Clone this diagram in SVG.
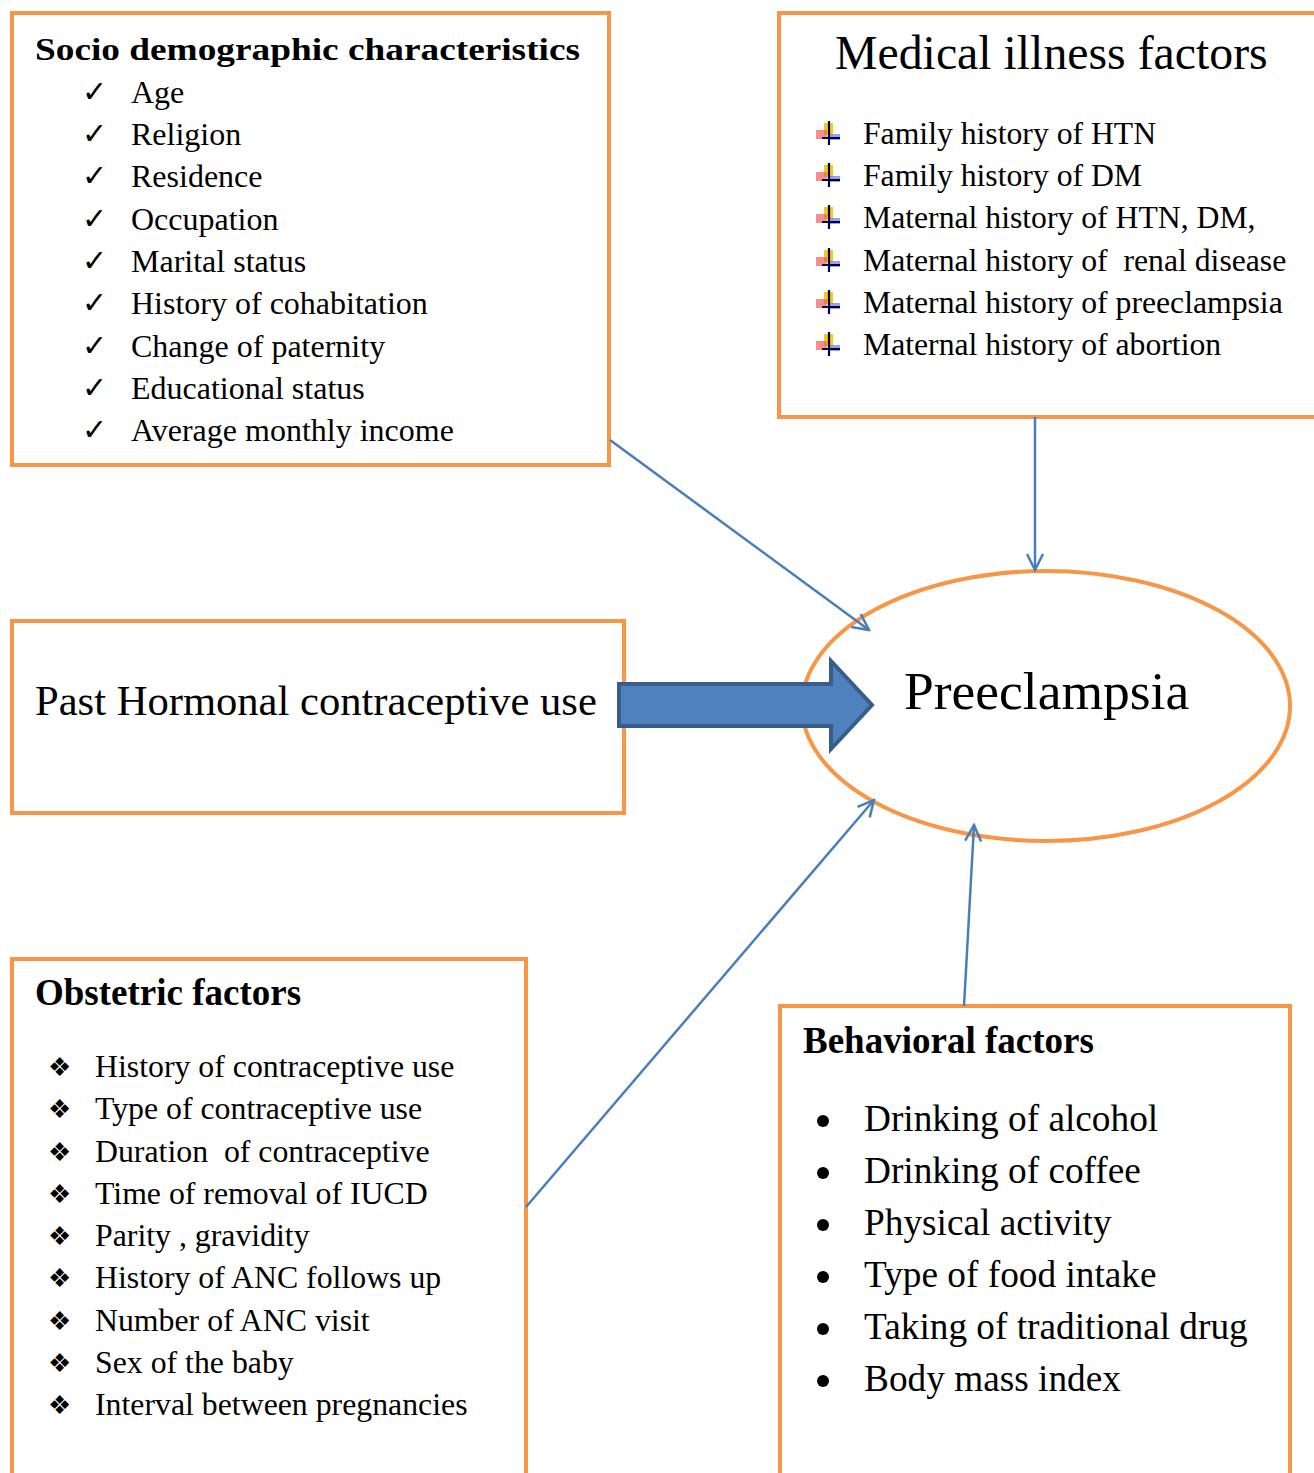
<svg xmlns="http://www.w3.org/2000/svg" width="1314" height="1473" viewBox="0 0 1314 1473">
<style>
.box{fill:#fff;stroke:#F79646;stroke-width:4}
.t{font-family:"Liberation Serif","Times New Roman",serif;fill:#000}
.b{font-weight:bold}
.s{font-family:"DejaVu Sans",sans-serif;fill:#000}
.con{stroke:#4A7EBB;stroke-width:2.5;fill:none}
</style>
<defs>
<marker id="ah" viewBox="0 0 20 20" refX="18" refY="10" markerWidth="20" markerHeight="20" markerUnits="userSpaceOnUse" orient="auto">
<path d="M2,2 L18,10 L2,18" fill="none" stroke="#4A7EBB" stroke-width="2.5"/>
</marker>
<g id="ico">
<rect x="-5" y="-12" width="9" height="12" fill="#F4C400" opacity="0.9"/>
<rect x="-13" y="-5" width="11" height="9" fill="#F06060" opacity="0.7"/>
<rect x="-1" y="-1" width="12" height="6" fill="#5060F0" opacity="0.6"/>
<path d="M0,-14 V10 M-7,3 H11" stroke="#000040" stroke-width="2.2"/>
</g>
</defs>

<g id="socio">
<rect class="box" x="12" y="13" width="597" height="452"/>
<text class="t b" x="35" y="60" font-size="32" textLength="545" lengthAdjust="spacingAndGlyphs">Socio demographic characteristics</text>
<g class="s" font-size="30" font-weight="bold">
<text x="82" y="102">✓</text><text x="82" y="144">✓</text><text x="82" y="186">✓</text>
<text x="82" y="229">✓</text><text x="82" y="271">✓</text><text x="82" y="313">✓</text>
<text x="82" y="356">✓</text><text x="82" y="398">✓</text><text x="82" y="440">✓</text>
</g>
<g class="t" font-size="32">
<text x="131" y="103">Age</text>
<text x="131" y="145">Religion</text>
<text x="131" y="187">Residence</text>
<text x="131" y="230">Occupation</text>
<text x="131" y="272">Marital status</text>
<text x="131" y="314">History of cohabitation</text>
<text x="131" y="357">Change of paternity</text>
<text x="131" y="399">Educational status</text>
<text x="131" y="441">Average monthly income</text>
</g>
</g>

<g id="medical">
<rect class="box" x="779" y="13" width="540" height="404"/>
<text class="t" x="835" y="69" font-size="47.8">Medical illness factors</text>
<use href="#ico" x="829" y="135"/><use href="#ico" x="829" y="177"/><use href="#ico" x="829" y="219"/>
<use href="#ico" x="829" y="262"/><use href="#ico" x="829" y="304"/><use href="#ico" x="829" y="346"/>
<g class="t" font-size="31.7">
<text x="863" y="144">Family history of HTN</text>
<text x="863" y="186">Family history of DM</text>
<text x="863" y="228">Maternal history of HTN, DM,</text>
<text x="863" y="271" xml:space="preserve">Maternal history of  renal disease</text>
<text x="863" y="313">Maternal history of preeclampsia</text>
<text x="863" y="355">Maternal history of abortion</text>
</g>
</g>

<g id="hormonal">
<rect class="box" x="12" y="621" width="612" height="192"/>
<text class="t" x="35" y="715" font-size="42.6">Past Hormonal contraceptive use</text>
</g>

<g id="preeclampsia">
<ellipse cx="1046" cy="706" rx="244" ry="135" fill="#fff" stroke="#F79646" stroke-width="4"/>
<text class="t" x="904" y="709" font-size="53.5">Preeclampsia</text>
</g>

<g id="obstetric">
<rect class="box" x="12" y="959" width="514" height="530"/>
<text class="t b" x="35" y="1005" font-size="37">Obstetric factors</text>
<g class="s" font-size="26">
<text x="48" y="1076">❖</text><text x="48" y="1118">❖</text><text x="48" y="1161">❖</text>
<text x="48" y="1203">❖</text><text x="48" y="1245">❖</text><text x="48" y="1287">❖</text>
<text x="48" y="1330">❖</text><text x="48" y="1372">❖</text><text x="48" y="1414">❖</text>
</g>
<g class="t" font-size="31.8">
<text x="95" y="1077">History of contraceptive use</text>
<text x="95" y="1119">Type of contraceptive use</text>
<text x="95" y="1162" xml:space="preserve">Duration  of contraceptive</text>
<text x="95" y="1204">Time of removal of IUCD</text>
<text x="95" y="1246">Parity , gravidity</text>
<text x="95" y="1288">History of ANC follows up</text>
<text x="95" y="1331">Number of ANC visit</text>
<text x="95" y="1373">Sex of the baby</text>
<text x="95" y="1415">Interval between pregnancies</text>
</g>
</g>

<g id="behavioral">
<rect class="box" x="780" y="1006" width="510" height="480"/>
<text class="t b" x="803" y="1053" font-size="37">Behavioral factors</text>
<g fill="#000">
<circle cx="823" cy="1121" r="6"/><circle cx="823" cy="1173" r="6"/><circle cx="823" cy="1225" r="6"/>
<circle cx="823" cy="1277" r="6"/><circle cx="823" cy="1329" r="6"/><circle cx="823" cy="1381" r="6"/>
</g>
<g class="t" font-size="37.3">
<text x="864" y="1131">Drinking of alcohol</text>
<text x="864" y="1183">Drinking of coffee</text>
<text x="864" y="1235">Physical activity</text>
<text x="864" y="1287">Type of food intake</text>
<text x="864" y="1339">Taking of traditional drug</text>
<text x="864" y="1391">Body mass index</text>
</g>
</g>

<g id="connectors">
<line class="con" x1="610" y1="440" x2="869" y2="630" marker-end="url(#ah)"/>
<line class="con" x1="1035" y1="417" x2="1035" y2="570" marker-end="url(#ah)"/>
<line class="con" x1="526" y1="1207" x2="874" y2="800" marker-end="url(#ah)"/>
<line class="con" x1="964" y1="1006" x2="974" y2="825" marker-end="url(#ah)"/>
<path d="M619,684 H831 V661 L872,705 L831,749 V726 H619 Z" fill="#4F81BD" stroke="#385D8A" stroke-width="4" stroke-linejoin="miter"/>
</g>
</svg>
